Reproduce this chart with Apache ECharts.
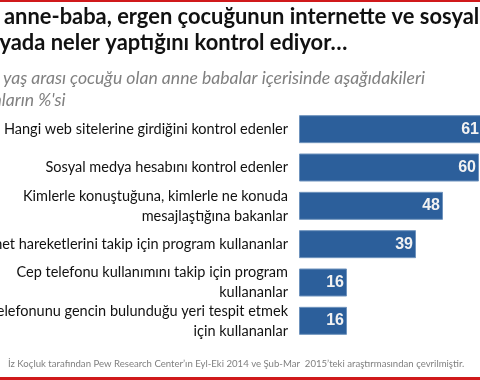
<!DOCTYPE html>
<html><head><meta charset="utf-8">
<script src="https://cdn.jsdelivr.net/npm/echarts@6/dist/echarts.min.js"></script>
<style>html,body{margin:0;padding:0;background:#fff}#c{width:480px;height:380px}</style>
</head><body><div id="c"></div>
<script>
const titleLines = [
  "Kaç anne-baba, ergen çocuğunun internette ve sosyal",
  "medyada neler yaptığını kontrol ediyor…"
];
const subtitleLines = [
  "13-17 yaş arası çocuğu olan anne babalar içerisinde aşağıdakileri",
  "yapanların %'si"
];
const footerText = "İz Koçluk tarafından Pew Research Center’ın Eyl-Eki 2014 ve Şub-Mar  2015’teki araştırmasından çevrilmiştir.";
const categories = [
  "Hangi web sitelerine girdiğini kontrol edenler",
  "Sosyal medya hesabını kontrol edenler",
  "Kimlerle konuştuğuna, kimlerle ne konuda\nmesajlaştığına bakanlar",
  "İnternet hareketlerini takip için program kullananlar",
  "Cep telefonu kullanımını takip için program\nkullananlar",
  "Cep telefonunu gencin bulunduğu yeri tespit etmek\niçin kullananlar"
];
const values = [61, 60, 48, 39, 16, 16];

const chart = echarts.init(document.getElementById('c'), null, {renderer: 'canvas'});
chart.setOption({
  animation: false,
  grid: {left: 299, top: 110, width: 183, height: 230, containLabel: false, outerBoundsMode: 'none'},
  xAxis: {type: 'value', min: 0, max: 61, show: false},
  yAxis: {
    type: 'category', data: categories, inverse: true,
    axisLine: {show: false}, axisTick: {show: false}, splitLine: {show: false},
    axisLabel: {interval: 0, hideOverlap: false, margin: 11, fontFamily: 'Lato', fontSize: 14.5, color: '#111', lineHeight: 20, align: 'right'}
  },
  series: [{
    type: 'bar', data: values, barWidth: 28,
    itemStyle: {color: '#2C5F9B', borderColor: '#6f93bd', borderWidth: 1},
    label: {show: true, position: 'insideRight', distance: 3,
      fontFamily: 'Liberation Sans', fontWeight: 'bold', fontSize: 16, color: '#f2f2f2'}
  }],
  graphic: [
    {type: 'rect', shape: {x: 0, y: 0, width: 480, height: 2}, style: {fill: '#d0191b'}},
    {type: 'rect', shape: {x: 0, y: 377, width: 480, height: 3}, style: {fill: '#d0191b'}},
    {type: 'text', x: -38, y: 17, style: {text: titleLines[0], font: 'bold 21.9px Lato', fill: '#111', verticalAlign: 'middle'}},
    {type: 'text', x: -43, y: 43, style: {text: titleLines[1], font: 'bold 21.9px Lato', fill: '#111', verticalAlign: 'middle'}},
    {type: 'text', x: -48, y: 78, style: {text: subtitleLines[0], font: 'italic 17.6px Lato', fill: '#808080', verticalAlign: 'middle'}},
    {type: 'text', x: -43, y: 100, style: {text: subtitleLines[1], font: 'italic 17.6px Lato', fill: '#808080', verticalAlign: 'middle'}},
    {type: 'text', x: 8, y: 364, style: {text: footerText, font: '9.6px Lato', fill: '#7f7f7f', verticalAlign: 'middle'}}
  ]
});
</script>
</body></html>
